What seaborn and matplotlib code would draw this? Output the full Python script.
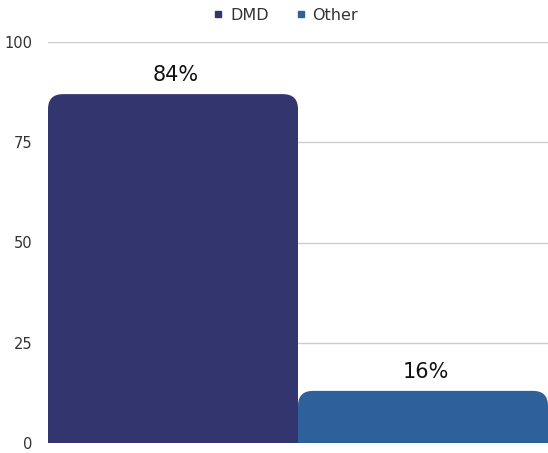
import matplotlib
matplotlib.use("Agg")
import matplotlib.pyplot as plt
import seaborn as sns
import pandas as pd
from matplotlib.patches import FancyBboxPatch
from matplotlib.lines import Line2D

# --- data ---
categories = ["DMD", "Other"]
bar_heights = [87, 13]
bar_labels = ["84%", "16%"]
colors = ["#33356e", "#2e6099"]
y_ticks = [0, 25, 50, 75, 100]

df = pd.DataFrame({"cat": categories, "val": bar_heights})

sns.set_theme(style="white")
plt.rcParams["font.family"] = ["DejaVu Sans"]

W, H = 548, 453
fig = plt.figure(figsize=(W / 100, H / 100), dpi=100)
ax = fig.add_axes([48 / W, 10 / H, 500 / W, 401 / H])

sns.barplot(data=df, x="cat", y="val", hue="cat", palette=colors,
            width=1.0, legend=False, ax=ax, zorder=2)

ax.set_xlim(-0.5, 1.5)
ax.set_ylim(0, 100)

# swap the flat bars for ones with rounded tops
x_per_px = 2.0 / 500
y_per_px = 100 / 401
aspect = y_per_px / x_per_px
radius = 15 * x_per_px
for p, c in zip(list(ax.patches), colors):
    x0, w, h = p.get_x(), p.get_width(), p.get_height()
    p.remove()
    ext = 20
    fb = FancyBboxPatch((x0, -ext), w, h + ext,
                        boxstyle=f"round,pad=0,rounding_size={radius}",
                        mutation_aspect=aspect, facecolor=c,
                        edgecolor="none", zorder=2)
    ax.add_patch(fb)

for i, (h, lab) in enumerate(zip(bar_heights, bar_labels)):
    ax.text(i + 0.01, h + 2.2, lab, ha="center", va="bottom", fontsize=15, color="#111111")

ax.set_yticks(y_ticks)
ax.set_yticklabels([str(t) for t in y_ticks], fontsize=10.5, color="#333333")
ax.set_xticks([])
ax.set_xlabel("")
ax.set_ylabel("")
ax.tick_params(axis="y", length=0, pad=11)
for s in ax.spines.values():
    s.set_visible(False)
ax.yaxis.grid(True, color="#cccccc", linewidth=1.0, zorder=0)
ax.set_axisbelow(True)

handles = [Line2D([], [], marker="s", linestyle="none", markersize=4.5,
                  markerfacecolor=c, markeredgecolor=c) for c in colors]
fig.legend(handles, categories, loc="center", bbox_to_anchor=(0.52, 1 - 15 / H),
           ncol=2, frameon=False, fontsize=11.5, handletextpad=0.35,
           columnspacing=1.6, handlelength=0.8, labelcolor="#333333")

fig.savefig("out.png", dpi=100)
